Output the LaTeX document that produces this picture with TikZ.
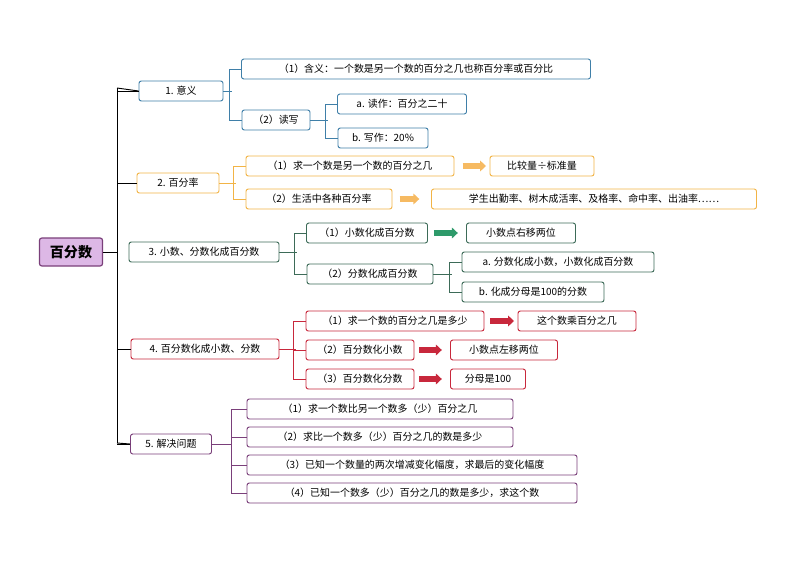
\documentclass[tikz,border=0pt]{standalone}
\usepackage{fontspec}
\setmainfont{Noto Sans CJK SC}
\usepackage{tikz}
\usetikzlibrary{positioning,arrows.meta,shapes.arrows}
\definecolor{cblue}{HTML}{3F7FA8}
\definecolor{corange}{HTML}{F2B446}
\definecolor{cgreen}{HTML}{3D6B58}
\definecolor{cred}{HTML}{C8283C}
\definecolor{cpurple}{HTML}{7A3F7A}
\definecolor{rootfill}{HTML}{DDB8E6}
\definecolor{agreen}{HTML}{2E9A6A}
\definecolor{aorange}{HTML}{F6BA62}
\tikzset{
  box/.style={draw, rounded corners=2pt, line width=0.8pt, minimum height=0.6cm, inner sep=1pt, font=\fontsize{8.5}{10}\selectfont, fill=white},
  mw/.style={minimum width=#1*0.03cm},
  link/.style={line width=0.8pt},
  barrow/.style={-{Triangle[length=5pt,width=9pt]}, line width=4.5pt},
}
\begin{document}
\begin{tikzpicture}[x=0.03cm,y=-0.03cm]
\useasboundingbox (0,0) rectangle (794,562);
% root
\node (root) [box, mw=63, minimum height=0.84cm, draw=cpurple, fill=rootfill, line width=1pt, font=\fontsize{12}{14}\selectfont\bfseries] at (71,252) {百分数};
\draw[link] (117,88) -- (117,443);
\draw[link] (root.east) -- (117,252);
% level 1
\node (m1) [box, mw=84, draw=cblue] at (181,91) {1. 意义};
\node (m2) [box, mw=82, draw=corange] at (178,183) {2. 百分率};
\node (m3) [box, mw=150, draw=cgreen] at (204,252) {3. 小数、分数化成百分数};
\node (m4) [box, mw=148, draw=cred] at (205,349) {4. 百分数化成小数、分数};
\node (m5) [box, mw=81, draw=cpurple] at (171,444) {5. 解决问题};
\foreach \m in {m1,m2,m4,m5}
  \draw[link] (\m.west) -- (\m.west -| 117,0);
\draw[link] (117,88) -- (m1.west);
\draw[link] (117,443) -- (m5.west);
% 1. 意义
\node (m1a) [box, mw=349, draw=cblue] at (416,69) {（1）含义：一个数是另一个数的百分之几也称百分率或百分比};
\node (m1b) [box, mw=68, draw=cblue] at (276,120) {（2）读写};
\node (m1b1) [box, mw=129, draw=cblue, align=left] at (402,104) {a. 读作：百分之二十};
\node (m1b2) [box, mw=90, draw=cblue] at (383,138) {b. 写作：20\%};
\draw[link, cblue] (m1a.west) -- ++(-12,0) |- (m1b.west);
\draw[link, cblue] (m1.east) -- ++(9,0);
\draw[link, cblue] (m1b1.west) -- ++(-12,0) |- (m1b2.west);
\draw[link, cblue] (m1b.east) -- ++(18,0);
% 2. 百分率
\node (m2a) [box, mw=208, draw=corange] at (350,166) {（1）求一个数是另一个数的百分之几};
\node (m2a1) [box, mw=104, draw=corange] at (542,166) {比较量÷标准量};
\node (m2b) [box, mw=146, draw=corange] at (319,199) {（2）生活中各种百分率};
\node (m2b1) [box, mw=325, draw=corange] at (594,199) {学生出勤率、树木成活率、及格率、命中率、出油率……};
\draw[link, corange] (m2a.west) -- ++(-12,0) |- (m2b.west);
\draw[link, corange] (m2.east) -- ++(17,0);
\draw[barrow, aorange] ([xshift=7]m2a.east) -- ([xshift=-3]m2a1.west);
\draw[barrow, aorange] ([xshift=6]m2b.east) -- ([xshift=-10]m2b1.west);
% 3. 小数、分数化成百分数
\node (m3a) [box, mw=121, draw=cgreen] at (367,233) {（1）小数化成百分数};
\node (m3a1) [box, mw=109, draw=cgreen] at (521,233) {小数点右移两位};
\node (m3b) [box, mw=126, draw=cgreen] at (370,274) {（2）分数化成百分数};
\node (m3b1) [box, mw=192, draw=cgreen] at (558,262) {a. 分数化成小数，小数化成百分数};
\node (m3b2) [box, mw=142, draw=cgreen] at (533,292) {b. 化成分母是100的分数};
\draw[link, cgreen] (m3a.west) -- ++(-12,0) |- (m3b.west);
\draw[link, cgreen] (m3.east) -- ++(18,0);
\draw[link, cgreen] (m3b1.west) -- ++(-12,0) |- (m3b2.west);
\draw[link, cgreen] (m3b.east) -- ++(19,0);
\draw[barrow, agreen] ([xshift=5]m3a.east) -- ([xshift=-7]m3a1.west);
% 4. 百分数化成小数、分数
\node (m4a) [box, mw=178, draw=cred] at (395,321) {（1）求一个数的百分之几是多少};
\node (m4a1) [box, mw=118, draw=cred] at (577,321) {这个数乘百分之几};
\node (m4b) [box, mw=108, draw=cred] at (360,350) {（2）百分数化小数};
\node (m4b1) [box, mw=107, draw=cred] at (504,350) {小数点左移两位};
\node (m4c) [box, mw=108, draw=cred] at (360,379) {（3）百分数化分数};
\node (m4c1) [box, mw=75, draw=cred] at (488,379) {分母是100};
\draw[link, cred] (m4a.west) -- ++(-12,0) |- (m4c.west);
\draw[link, cred] (m4b.west) -- ++(-12,0);
\draw[link, cred] (m4.east) -- ++(17,0);
\draw[barrow, cred] ([xshift=5]m4a.east) -- ([xshift=-3]m4a1.west);
\draw[barrow, cred] ([xshift=4]m4b.east) -- ([xshift=-7]m4b1.west);
\draw[barrow, cred] ([xshift=4]m4c.east) -- ([xshift=-7]m4c1.west);
% 5. 解决问题
\node (m5a) [box, mw=266, draw=cpurple] at (380,409) {（1）求一个数比另一个数多（少）百分之几};
\node (m5b) [box, mw=266, draw=cpurple] at (380,437) {（2）求比一个数多（少）百分之几的数是多少};
\node (m5c) [box, mw=330, draw=cpurple] at (412,465) {（3）已知一个数量的两次增减变化幅度，求最后的变化幅度};
\node (m5d) [box, mw=330, draw=cpurple] at (412,493) {（4）已知一个数多（少）百分之几的数是多少，求这个数};
\draw[link, cpurple] (m5a.west) -- ++(-15,0) |- (m5d.west);
\draw[link, cpurple] (m5b.west) -- ++(-15,0);
\draw[link, cpurple] (m5c.west) -- ++(-15,0);
\draw[link, cpurple] (m5.east) -- ++(20,0);
\end{tikzpicture}
\end{document}
